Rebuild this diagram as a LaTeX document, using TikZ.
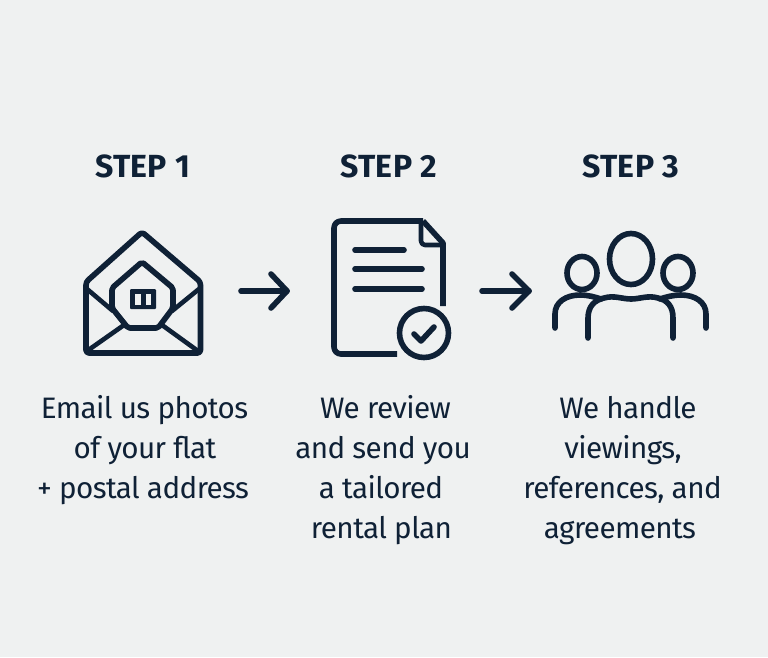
\documentclass[tikz,border=0pt]{standalone}
\usepackage{fontspec}
\setmainfont{Fira Sans}
\definecolor{ink}{HTML}{0F2136}
\definecolor{paper}{HTML}{EFF1F1}
\tikzset{
  icon/.style={draw=ink,line width=5.6pt,line join=round,line cap=round,fill=none},
  thin icon/.style={icon,line width=4.6pt},
  head/.style={anchor=base,text=ink,font=\fontsize{32}{32}\selectfont\bfseries\addfontfeature{LetterSpace=1.2}},
  body/.style={anchor=base,text=ink,font=\fontsize{29.6}{29.6}\selectfont\addfontfeature{LetterSpace=-2}},
}
\begin{document}
\begin{tikzpicture}[x=1pt,y=-1pt]
\fill[paper] (0,0) rectangle (768,657);
\useasboundingbox (0,0) rectangle (768,657);
% headings
\node[head] (s1) at (142.5,177) {STEP 1};
\node[head] (s2) at (388.5,177) {STEP 2};
\node[head] (s3) at (630.5,177) {STEP 3};
% envelope
\draw[icon,rounded corners=3pt] (142,232) -- (86,282) -- (86,353) -- (200.5,353) -- (200.5,282) -- cycle;
\draw[icon,rounded corners=2pt] (142,262) -- (112,288) -- (112,308) -- (128,328) -- (158,328) -- (173,308) -- (173,288) -- cycle;
\draw[thin icon,line cap=butt] (87,289) -- (113,311);
\draw[thin icon,line cap=butt] (199,289) -- (172,311);
\draw[thin icon,line cap=butt] (87,351) -- (124,325);
\draw[thin icon,line cap=butt] (198,351) -- (162,325);
\fill[ink,rounded corners=1pt] (130,289) rectangle (156,309);
\fill[paper] (135,294) rectangle (140.5,305);
\fill[paper] (145.5,294) rectangle (151,305);
% document
\draw[icon,line cap=butt,rounded corners=7pt] (397,354) -- (334,354) -- (334,221) -- (423,221);
\draw[icon,line cap=butt] (423,221) -- (443,243) -- (443,306);
\draw[icon,line width=4.6pt,rounded corners=4pt] (421,222) -- (421,245) -- (443,245);
\draw[icon] (355,250) -- (404,250);
\draw[icon] (355,269) -- (422,269);
\draw[icon] (355,289) -- (422,289);
\draw[icon] (424,333) circle[radius=24.5];
\draw[icon] (414,334) -- (421,341) -- (434,327);
% people
\draw[icon] (631,259) ellipse[x radius=21.5,y radius=25.5];
\draw[icon] (582,273) ellipse[x radius=15,y radius=16.5];
\draw[icon] (678,273) ellipse[x radius=15,y radius=16.5];
\draw[icon] (588,338) -- (588,318) .. controls (588,306) and (595,300) .. (604,298) .. controls (614,295) and (622,299) .. (631,299) .. controls (640,299) and (648,295) .. (658,298) .. controls (667,300) and (673,306) .. (673,318) -- (673,338);
\draw[icon] (555,328) -- (555,314) .. controls (555,302) and (566,295) .. (580,295) .. controls (588,295) and (595,297) .. (601,299);
\draw[icon] (706,328) -- (706,314) .. controls (706,302) and (695,295) .. (681,295) .. controls (673,295) and (666,297) .. (660,299);
% arrows
\coordinate (a1s) at (241,291); \coordinate (a1e) at (287,291);
\coordinate (a2s) at (482,291); \coordinate (a2e) at (529,291);
\draw[icon] (a1s) -- (a1e);
\draw[icon] (271,274) -- (a1e) -- (271,308);
\draw[icon] (a2s) -- (a2e);
\draw[icon] (512,274) -- (a2e) -- (512,308);
% texts
\node[body] (t11) at (144.5,418) {Email us photos};
\node[body] (t12) at (145,458) {of your flat};
\node[body] (t13) at (143,498) {+ postal address};
\node[body] (t21) at (385.5,418) {We review};
\node[body] (t22) at (383,458) {and send you};
\node[body] (t23) at (381,498) {a tailored};
\node[body] (t24) at (381.5,538) {rental plan};
\node[body] (t31) at (628,418) {We handle};
\node[body] (t32) at (623,458) {viewings,};
\node[body] (t33) at (622.5,498) {references, and};
\node[body] (t34) at (620,538) {agreements};
\end{tikzpicture}
\end{document}
